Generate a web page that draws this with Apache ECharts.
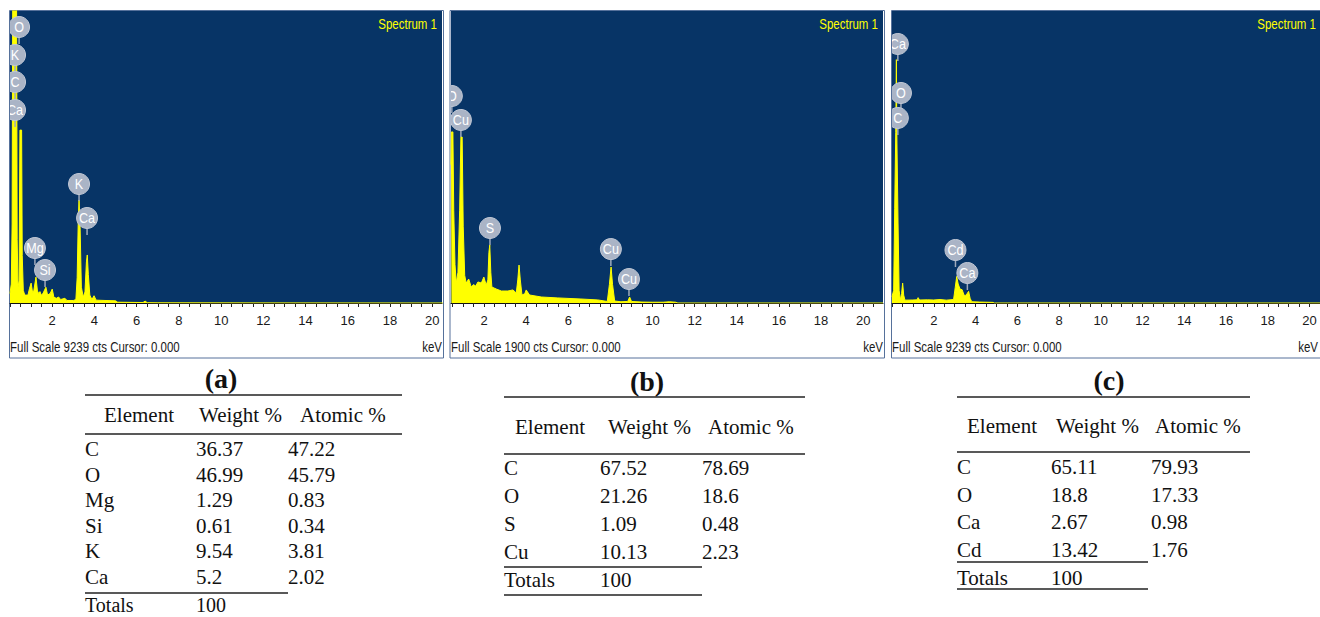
<!DOCTYPE html>
<html>
<head>
<meta charset="utf-8">
<script src="https://cdn.jsdelivr.net/npm/echarts@6/dist/echarts.min.js"></script>
<style>
html,body{margin:0;padding:0;background:#fff;}
#chart{width:1320px;height:617px;}
</style>
</head>
<body>
<div id="chart"></div>
<script>
// ---------- DATA ----------
// spectra: [keV, counts]
const specA = [[0.00,300],[0.06,600],[0.10,2500],[0.13,9800],[0.31,9800],[0.34,2000],[0.38,500],[0.43,700],[0.47,5470],[0.55,5470],[0.58,1500],[0.63,400],[0.70,250],[0.85,250],[0.92,450],[1.00,630],[1.07,330],[1.13,400],[1.23,820],[1.30,380],[1.36,300],[1.42,360],[1.48,250],[1.56,300],[1.70,500],[1.78,250],[1.90,300],[2.00,440],[2.08,180],[2.20,150],[2.30,190],[2.40,110],[2.60,150],[2.70,80],[3.00,80],[3.12,110],[3.18,800],[3.23,2500],[3.27,3260],[3.32,2400],[3.38,500],[3.47,190],[3.55,350],[3.62,1300],[3.66,1520],[3.71,900],[3.78,250],[3.88,110],[3.98,230],[4.08,90],[4.50,80],[5.00,70],[5.10,25],[6.30,15],[6.40,60],[6.50,10],[7.00,5],[20.5,0]];
const specB = [[0.43,900],[0.45,1113],[0.52,1113],[0.56,600],[0.62,250],[0.68,130],[0.76,200],[0.84,600],[0.90,1080],[0.96,1080],[1.01,500],[1.08,180],[1.15,130],[1.27,156],[1.39,104],[1.50,120],[1.60,110],[1.71,137],[1.87,130],[1.99,169],[2.10,117],[2.18,150],[2.23,330],[2.27,377],[2.32,200],[2.37,104],[2.58,91],[2.82,78],[3.13,78],[3.37,85],[3.53,65],[3.60,150],[3.66,247],[3.72,150],[3.80,52],[3.93,60],[4.00,85],[4.16,52],[4.72,39],[5.50,33],[6.60,26],[7.40,20],[7.85,10],[7.95,120],[8.03,234],[8.10,120],[8.20,13],[8.50,8],[8.82,10],[8.91,39],[9.00,10],[9.50,6],[10.00,5],[10.50,5],[10.80,8],[11.10,5],[11.20,0],[20.94,0]];
const specC = [[0.00,200],[0.08,400],[0.13,3000],[0.18,5400],[0.21,7700],[0.23,5400],[0.29,2500],[0.34,400],[0.40,100],[0.46,300],[0.51,630],[0.56,250],[0.62,90],[1.00,95],[1.20,100],[1.25,170],[1.32,95],[1.70,100],[2.00,95],[2.30,110],[2.60,90],[2.95,110],[3.03,500],[3.10,840],[3.17,600],[3.26,440],[3.36,420],[3.45,250],[3.51,230],[3.60,300],[3.67,370],[3.74,150],[3.82,40],[4.20,30],[4.50,25],[4.85,20],[4.90,0],[20.5,0]];

// peak labels: [keV, counts, element]
const labelsA = [[0.43,8733,'O'],[0.24,7847,'K'],[0.24,6993,'C'],[0.24,6107,'Ca'],[3.27,3765,'K'],[3.65,2690,'Ca'],[1.18,1740,'Mg'],[1.66,1044,'Si']];
const labelsB = [[0.47,1347,'O'],[0.90,1191,'Cu'],[2.28,488,'S'],[8.02,351,'Cu'],[8.88,156,'Cu']];
const labelsC = [[0.28,8195,'Ca'],[0.43,6645,'O'],[0.28,5854,'C'],[3.04,1677,'Cd'],[3.61,949,'Ca']];

const fullScale = [9239, 1900, 9239];
const tickKev = [0,0.5,1,1.5,2,2.5,3,3.5,4,4.5,5,5.5,6,6.5,7,7.5,8,8.5,9,9.5,10,10.5,11,11.5,12,12.5,13,13.5,14,14.5,15,15.5,16,16.5,17,17.5,18,18.5,19,19.5,20,20.5];
const labelKev = [2,4,6,8,10,12,14,16,18,20];

// tables
const tabHeaders = ['Element','Weight %','Atomic %'];
const tabTitles = ['(a)','(b)','(c)'];
const elemA = ['C','O','Mg','Si','K','Ca'];
const weightA = [36.37,46.99,1.29,0.61,9.54,5.2];
const atomicA = [47.22,45.79,0.83,0.34,3.81,2.02];
const elemB = ['C','O','S','Cu'];
const weightB = [67.52,21.26,1.09,10.13];
const atomicB = [78.69,18.6,0.48,2.23];
const elemC = ['C','O','Ca','Cd'];
const weightC = [65.11,18.8,2.67,13.42];
const atomicC = [79.93,17.33,0.98,1.76];
const totals = [100,100,100];

// ---------- LAYOUT ----------
const SANS = '"Liberation Sans",Arial,sans-serif';
const SERIF = '"Liberation Serif","DejaVu Serif",serif';
const BLUE = '#073466';
const YEL = '#ffff00';
const NARROWSCALE = 0.82;

const panels = [
  {left:10, width:432, min:0, max:20.46, box:[9,10,443,357.5], spec:specA, labels:labelsA, kevX:442},
  {left:451, width:432, min:0.43, max:20.94, box:[449.5,10,884,357.5], spec:specB, labels:labelsB, kevX:883},
  {left:892, width:432, min:0, max:20.5, box:[891,10,1330,357.5], spec:specC, labels:labelsC, kevX:1318}
];
const gridTop = 11, gridH = 292;

const grids = [], xAxes = [], yAxes = [], series = [], graphic = [];
panels.forEach((p, i) => {
  grids.push({left:p.left, top:gridTop, width:p.width, height:gridH, show:true, backgroundColor:BLUE, borderWidth:0, containLabel:false});
  xAxes.push({
    type:'value', gridIndex:i, min:p.min, max:p.max,
    axisLine:{show:true, lineStyle:{color:'#111', width:1}},
    axisTick:{show:true, customValues:tickKev, length:4, inside:false, lineStyle:{color:'#222', width:1}},
    axisLabel:{show:true, customValues:labelKev, margin:11, fontSize:13, color:'#1a1a1a', fontFamily:SANS},
    splitLine:{show:false}
  });
  yAxes.push({type:'value', gridIndex:i, min:0, max:fullScale[i], show:false, splitLine:{show:false}});
  series.push({
    type:'line', xAxisIndex:i, yAxisIndex:i, data:p.spec, showSymbol:false, symbol:'none',
    lineStyle:{color:YEL, width:1}, areaStyle:{color:YEL, opacity:1}, clip:true, z:2, silent:true, animation:false
  });
  const labs = p.labels;
  series.push({
    type:'custom', xAxisIndex:i, yAxisIndex:i, clip:true, z:5, animation:false,
    data: labs.map(l => [l[0], l[1]]),
    renderItem: function(params, api){
      const c = api.coord([api.value(0), api.value(1)]);
      const name = labs[params.dataIndex][2];
      return {type:'group', children:[
        {type:'line', shape:{x1:c[0], y1:c[1], x2:c[0], y2:c[1]+17}, style:{stroke:'#9ea9bb', lineWidth:1.5}},
        {type:'circle', shape:{cx:c[0], cy:c[1], r:10.5}, style:{fill:'#aab4c6', stroke:'#c2c9d6', lineWidth:1}},
        {type:'text', x:c[0], y:c[1]+0.5, scaleX:0.9, style:{text:name, textAlign:'center', textVerticalAlign:'middle', fill:'#ffffff', font:'14px '+SANS}}
      ]};
    }
  });
  // frame
  const b = p.box;
  graphic.push({type:'rect', shape:{x:b[0]+0.5, y:b[1]+0.5, width:b[2]-b[0], height:b[3]-b[1]}, style:{fill:'none', stroke:'#56719b', lineWidth:1}, z:-1});
  graphic.push({type:'text', x:Math.min(p.left+p.width-5, 1316), y:24, scaleX:NARROWSCALE, style:{text:'Spectrum 1', textAlign:'right', textVerticalAlign:'middle', fill:YEL, font:'14px '+SANS}, z:10});
  graphic.push({type:'text', x:p.left, y:347, scaleX:NARROWSCALE, style:{text:'Full Scale '+fullScale[i]+' cts Cursor: 0.000', textAlign:'left', textVerticalAlign:'middle', fill:'#1a1a1a', font:'14px '+SANS}, z:10});
  graphic.push({type:'text', x:p.kevX, y:347, scaleX:NARROWSCALE, style:{text:'keV', textAlign:'right', textVerticalAlign:'middle', fill:'#1a1a1a', font:'14px '+SANS}, z:10});
});

// tables
const tables = [
  {el:elemA, w:weightA, a:atomicA, x0:85, x1:402, tx:221, ty:378, topRule:395, headY:415, headX:[104,199,300], headRule:434, colX:[85,196,288], row0:449, step:25.6, midRule:593, midX1:288, totY:605, botRule:null},
  {el:elemB, w:weightB, a:atomicB, x0:504, x1:805, tx:647, ty:381, topRule:397, headY:427, headX:[515,608,708], headRule:454, colX:[504,600,702], row0:468, step:28, midRule:567, midX1:702, totY:580, botRule:595},
  {el:elemC, w:weightC, a:atomicC, x0:957, x1:1250, tx:1109, ty:380, topRule:397, headY:426, headX:[967,1056,1155], headRule:452, colX:[957,1051,1151], row0:467, step:27.7, midRule:562, midX1:1148, totY:578, botRule:589}
];
function txt(x, y, s, font, align){
  return {type:'text', x:x, y:y, style:{text:String(s), textAlign:align||'left', textVerticalAlign:'middle', fill:'#111', font:font}, z:10};
}
function hline(x1, x2, y, w){
  return {type:'line', shape:{x1:x1, y1:y, x2:x2, y2:y}, style:{stroke:'#222', lineWidth:w||1.3}, z:10};
}
const TF = '21px '+SERIF;
tables.forEach((t, i) => {
  graphic.push(txt(t.tx, t.ty, tabTitles[i], 'bold 28px '+SERIF, 'center'));
  graphic.push(hline(t.x0, t.x1, t.topRule, 1.5));
  tabHeaders.forEach((h, k) => graphic.push(txt(t.headX[k], t.headY, h, TF)));
  graphic.push(hline(t.x0, t.x1, t.headRule, 1.5));
  t.el.forEach((e, r) => {
    const y = t.row0 + r*t.step;
    graphic.push(txt(t.colX[0], y, e, TF));
    graphic.push(txt(t.colX[1], y, t.w[r], TF));
    graphic.push(txt(t.colX[2], y, t.a[r], TF));
  });
  graphic.push(hline(t.x0, t.midX1, t.midRule, 1.3));
  const tf = (i === 0) ? '20px '+SERIF : TF;
  graphic.push(txt(t.colX[0], t.totY, 'Totals', tf));
  graphic.push(txt(t.colX[1], t.totY, totals[i], tf));
  if (t.botRule) graphic.push(hline(t.x0, t.midX1, t.botRule, 1.3));
});

const chart = echarts.init(document.getElementById('chart'), null, {renderer:'svg'});
chart.setOption({
  animation:false,
  backgroundColor:'#ffffff',
  grid:grids, xAxis:xAxes, yAxis:yAxes, series:series, graphic:graphic
});
</script>
</body>
</html>
